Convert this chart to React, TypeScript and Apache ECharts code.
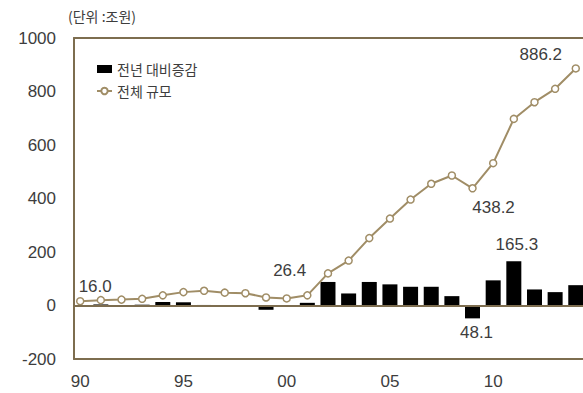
import React, { useEffect, useRef } from "react";
import * as echarts from "echarts";

// Years 1990–2014
const years = [
  1990, 1991, 1992, 1993, 1994, 1995, 1996, 1997, 1998, 1999,
  2000, 2001, 2002, 2003, 2004, 2005, 2006, 2007, 2008, 2009,
  2010, 2011, 2012, 2013, 2014,
];

// 전체 규모 (조원)
const totalSize = [
  16.0, 20, 22, 25, 38, 50, 55, 48, 46, 30,
  26.4, 38, 120, 168, 252, 325, 396, 455, 486, 438.2,
  532, 697.5, 760, 810, 886.2,
];

// 전년 대비 증감 (조원)
const yoyChange = [
  null, 4, 2, 3, 13, 12, 2, -2, -1, -16,
  -1, 10, 88, 45, 88, 79, 70, 70, 35, -48.1,
  94, 165.3, 60, 50, 76,
];

const xTickYears = [1990, 1995, 2000, 2005, 2010];
const yTicks = { min: -200, max: 1000, interval: 200 };

// years whose value gets a printed label
const lineLabelYears = [1990, 2000, 2009, 2014];
const barLabelYears = [2009, 2011];

const FONT = "'Liberation Sans', Arial, sans-serif";
const KFONT = "'Noto Sans CJK KR', 'Liberation Sans', sans-serif";
const AXIS = "#7d6d4f";
const LINE = "#a08d66";
const TEXT = "#3d3d3d";

const lineLabelStyle: Record<number, any> = {
  1990: { position: "top", offset: [15, 3] },
  2000: { position: "top", offset: [3, -10] },
  2009: { position: "bottom", offset: [21, 1] },
  2014: { position: "top", offset: [-35, 4] },
};
const barLabelStyle: Record<number, any> = {
  2009: { position: "bottom", offset: [4, 1], abs: true },
  2011: { position: "top", offset: [3, -3] },
};

export default function App() {
  const ref = useRef<HTMLDivElement>(null);

  useEffect(() => {
    if (!ref.current) return;
    const chart = echarts.init(ref.current, undefined, { renderer: "svg" });

    const lineData = years.map((yr, i) => {
      const item: any = { value: [yr, totalSize[i]] };
      if (lineLabelYears.includes(yr)) {
        const s = lineLabelStyle[yr];
        item.label = {
          show: true,
          position: s.position,
          offset: s.offset,
          formatter: (p: any) => p.value[1].toFixed(1),
        };
      }
      return item;
    });

    const barData = years.map((yr, i) => {
      const item: any = { value: [yr, yoyChange[i]] };
      if (barLabelYears.includes(yr)) {
        const s = barLabelStyle[yr];
        item.label = {
          show: true,
          position: s.position,
          offset: s.offset,
          formatter: (p: any) =>
            (s.abs ? Math.abs(p.value[1]) : p.value[1]).toFixed(1),
        };
      }
      return item;
    });

    chart.setOption({
      animation: false,
      backgroundColor: "#ffffff",
      grid: { left: 74, right: 0, top: 38, bottom: 34, containLabel: false },
      graphic: [
        {
          type: "text",
          left: 68,
          top: 9,
          style: { text: "(단위 :조원)", font: `14px ${KFONT}`, fill: TEXT },
        },
      ],
      legend: {
        orient: "vertical",
        left: 91,
        top: 57,
        itemGap: 8,
        itemWidth: 15,
        itemHeight: 8,
        textStyle: { fontFamily: KFONT, fontSize: 14, color: TEXT },
        data: [
          { name: "전년 대비증감", icon: "rect", itemStyle: { color: "#000" } },
          { name: "전체 규모" },
        ],
      },
      xAxis: [
        {
          type: "value",
          min: 1989.7,
          max: 2014.35,
          axisLine: { show: true, onZero: false, lineStyle: { color: AXIS, width: 2 } },
          axisTick: { show: false },
          splitLine: { show: false },
          axisLabel: {
            customValues: xTickYears,
            formatter: (v: number) => String(v).slice(2),
            fontFamily: FONT,
            fontSize: 17,
            color: TEXT,
            margin: 14,
          },
        },
        {
          type: "value",
          position: "top",
          min: 1989.7,
          max: 2014.35,
          axisLine: { show: true, onZero: false, lineStyle: { color: AXIS, width: 2 } },
          axisTick: { show: false },
          axisLabel: { show: false },
          splitLine: { show: false },
        },
      ],
      yAxis: {
        type: "value",
        min: yTicks.min,
        max: yTicks.max,
        interval: yTicks.interval,
        axisLine: { show: true, onZero: false, lineStyle: { color: AXIS, width: 2 } },
        axisTick: { show: false },
        splitLine: { show: false },
        axisLabel: {
          fontFamily: FONT,
          fontSize: 17,
          color: TEXT,
          margin: 18,
          formatter: (v: number) => String(v),
        },
      },
      series: [
        {
          name: "전년 대비증감",
          type: "bar",
          barWidth: 15,
          itemStyle: { color: "#000" },
          label: { fontFamily: FONT, fontSize: 17, color: TEXT },
          data: barData,
          markLine: {
            silent: true,
            symbol: "none",
            label: { show: false },
            lineStyle: { color: AXIS, width: 2, type: "solid" },
            data: [{ yAxis: 0 }],
          },
          z: 2,
        },
        {
          name: "전체 규모",
          type: "line",
          symbol: "circle",
          symbolSize: 7,
          showAllSymbol: true,
          lineStyle: { color: LINE, width: 2 },
          itemStyle: { color: "#fff", borderColor: LINE, borderWidth: 1.5 },
          label: { fontFamily: FONT, fontSize: 17, color: TEXT },
          data: lineData,
          z: 3,
        },
      ],
    });

    return () => chart.dispose();
  }, []);

  return (
    <div
      ref={ref}
      style={{ position: "absolute", left: 0, top: 0, width: 583, height: 393 }}
    />
  );
}
